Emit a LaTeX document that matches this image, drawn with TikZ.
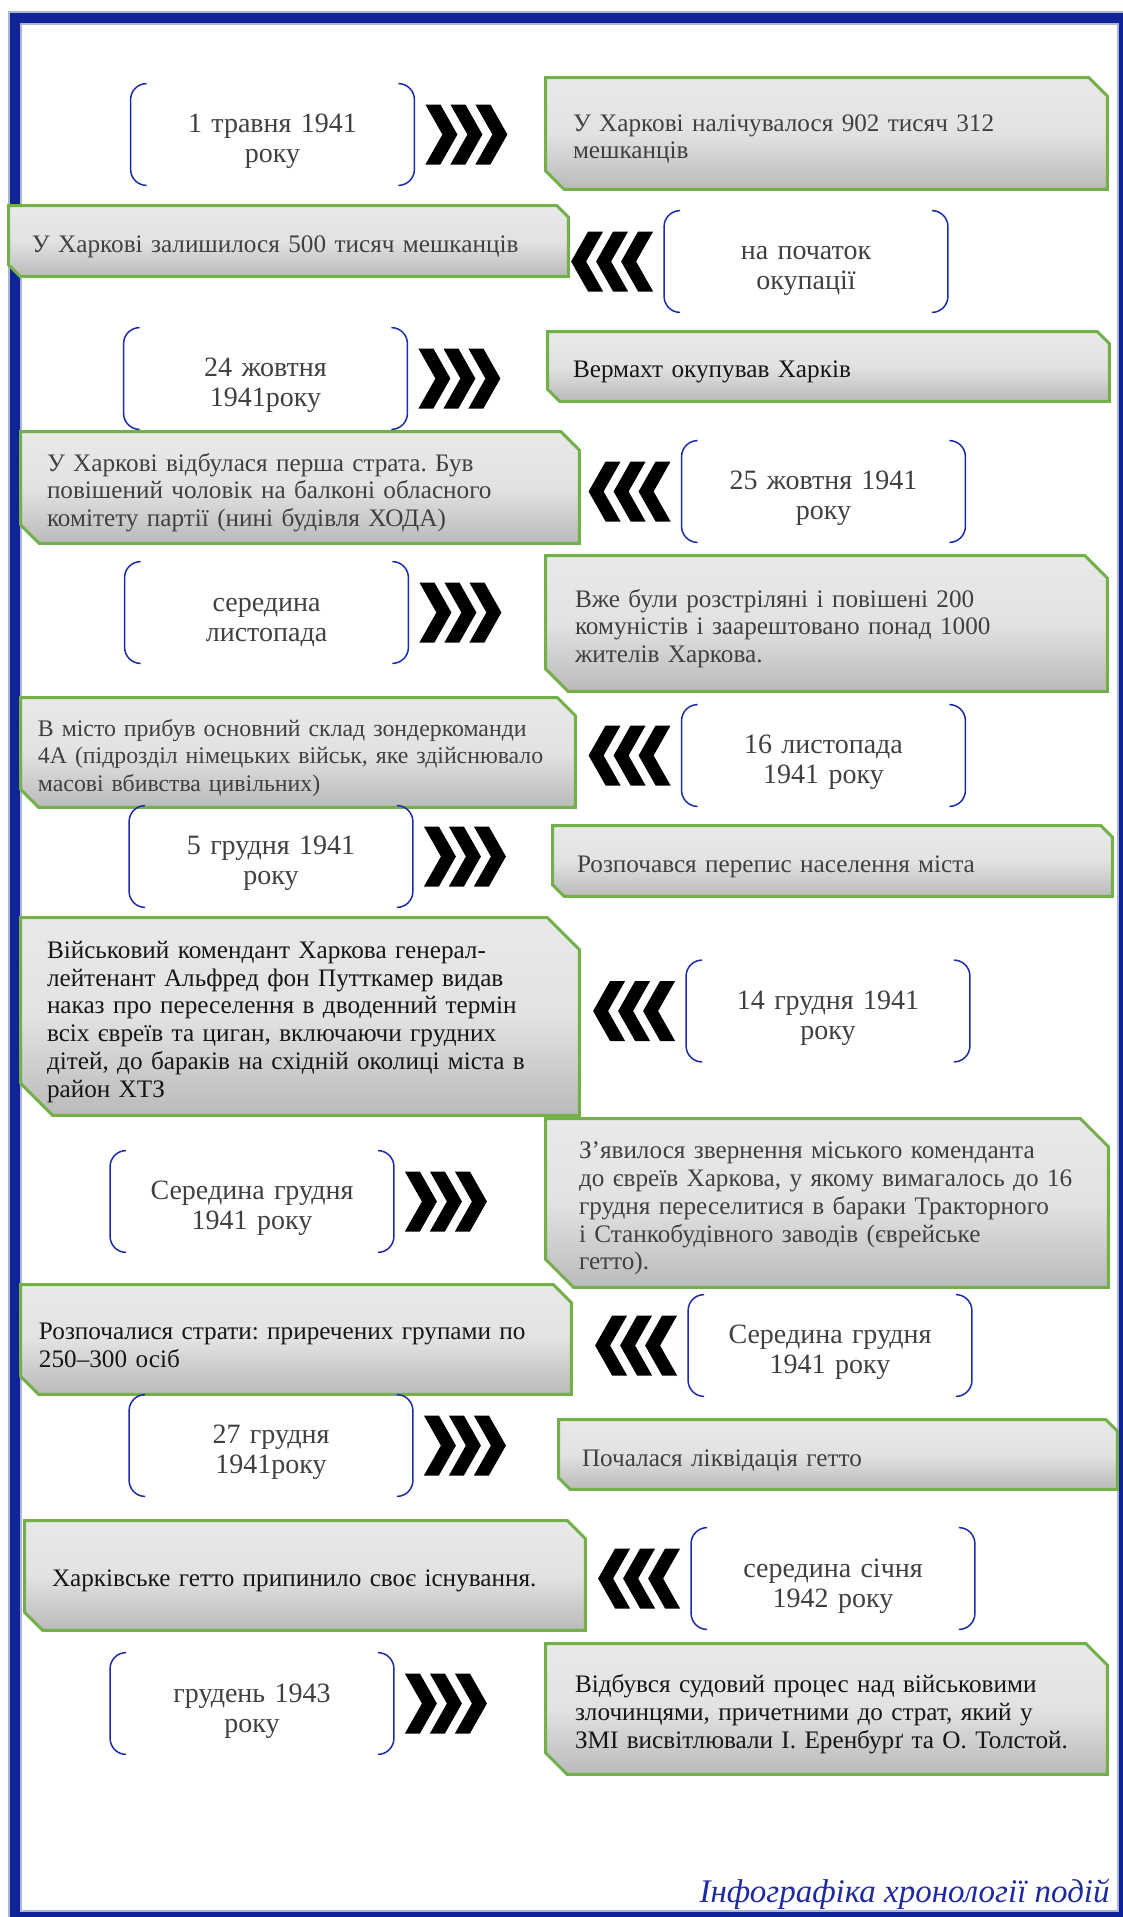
\documentclass[tikz,border=0pt]{standalone}
\usepackage{fontspec}
\setmainfont{Liberation Serif}
\usetikzlibrary{backgrounds}
\frenchspacing

\definecolor{frameblue}{RGB}{16,36,152}
\definecolor{framegrey}{RGB}{172,182,204}
\definecolor{brkblue}{RGB}{28,44,168}
\definecolor{boxgreen}{RGB}{116,176,74}
\definecolor{boxtop}{RGB}{233,233,233}
\definecolor{boxmid}{RGB}{226,226,226}
\definecolor{boxbot}{RGB}{186,186,186}
\definecolor{txtgrey}{RGB}{64,64,64}
\definecolor{txtblack}{RGB}{22,22,22}
\definecolor{capblue}{RGB}{30,42,160}

% round brackets on both sides of a date node
\newcommand{\brk}[1]{%
  \draw[brkline] ([xshift=8pt]#1.north west) arc[start angle=90,end angle=180,radius=8pt]
    -- ([yshift=8pt]#1.south west) arc[start angle=180,end angle=270,radius=8pt];
  \draw[brkline] ([xshift=-8pt]#1.north east) arc[start angle=90,end angle=0,radius=8pt]
    -- ([yshift=8pt]#1.south east) arc[start angle=0,end angle=-90,radius=8pt];}

% three chevrons after / before a date node
\newcommand{\chevR}[1]{%
  \foreach \k in {0,1,2}
    \fill[chev] ([xshift=5.5pt+12.5pt*\k]#1.east) ++(0pt,15pt) -- ++(7.5pt,0pt) -- ++(8.5pt,-15pt)
      -- ++(-8.5pt,-15pt) -- ++(-7.5pt,0pt) -- ++(8.5pt,15pt) -- cycle;}
\newcommand{\chevL}[1]{%
  \foreach \k in {0,1,2}
    \fill[chev] ([xshift=-5.5pt-12.5pt*\k]#1.west) ++(0pt,15pt) -- ++(-7.5pt,0pt) -- ++(-8.5pt,-15pt)
      -- ++(8.5pt,-15pt) -- ++(7.5pt,0pt) -- ++(-8.5pt,15pt) -- cycle;}

% green box with two cut corners, behind an event node
\newcommand{\cutbox}[2]{%
  \begin{pgfonlayer}{background}
  \draw[cutshape] (#1.north west) -- ([xshift=-#2]#1.north east) -- ([yshift=-#2]#1.north east)
    -- (#1.south east) -- ([xshift=#2]#1.south west) -- ([yshift=#2]#1.south west) -- cycle;
  \end{pgfonlayer}}

\begin{document}
\begin{tikzpicture}[x=0.5pt,y=-0.5pt,
  datenode/.style={minimum width=141.5pt,minimum height=50.5pt,inner sep=0pt,align=center,text width=141.5pt,
    font=\fontsize{14}{15}\selectfont,text=txtgrey,execute at begin node={\rule{0pt}{16.5pt}}},
  eventnode/.style={inner sep=0pt,align=left,font=\fontsize{12.6}{13.85}\selectfont,
    execute at begin node={\rule{0pt}{14pt}}},
  brkline/.style={draw=brkblue,line width=0.75pt},
  chev/.style={fill=black},
  cutshape/.style={draw=boxgreen,line width=1.5pt,top color=boxtop,bottom color=boxbot,middle color=boxmid}]

\useasboundingbox (0,0) rectangle (1123,1917);

% frame
\begin{pgfonlayer}{background}
\fill[framegrey] (8,11) rectangle (1123,1917);
\fill[frameblue] (10,13) rectangle (1123,1917);
\fill[framegrey] (20,23) rectangle (1119,1912);
\fill[white] (22,25) rectangle (1117,1910);
\end{pgfonlayer}

\node[datenode] (d1) at (272.5,134.5) {1 травня 1941\\року};
\node[eventnode,text=txtgrey,minimum width=280.5pt,minimum height=55.5pt,text width=253.5pt] (e1) at (826.5,133.5)
  {У Харкові налічувалося 902 тисяч 312\\мешканців};
\brk{d1} \cutbox{e1}{9.25pt} \chevR{d1}

\node[datenode] (d2) at (806,261.5) {на початок\\окупації};
\node[eventnode,text=txtgrey,minimum width=279.5pt,minimum height=35pt,text width=256.5pt] (e2) at (288.5,241)
  {У Харкові залишилося 500 тисяч мешканців};
\brk{d2} \cutbox{e2}{5.8pt} \chevL{d2}

\node[datenode] (d3) at (265.5,378.5) {24 жовтня\\1941року};
\node[eventnode,text=txtblack,minimum width=280.5pt,minimum height=34.5pt,text width=255.5pt] (e3) at (828.5,366.5)
  {Вермахт окупував Харків};
\brk{d3} \cutbox{e3}{6pt} \chevR{d3}

\node[datenode] (d4) at (823.5,491.5) {25 жовтня 1941\\року};
\node[eventnode,text=txtgrey,minimum width=279pt,minimum height=55.5pt,text width=253pt] (e4) at (300,487.5)
  {У Харкові відбулася перша страта. Був\\повішений чоловік на балконі обласного\\комітету партії (нині будівля ХОДА)};
\brk{d4} \cutbox{e4}{9.25pt} \chevL{d4}

\node[datenode] (d5) at (266.5,612.5) {середина\\листопада};
\node[eventnode,text=txtgrey,minimum width=280.5pt,minimum height=67.5pt,text width=251.5pt] (e5) at (826.5,623.5)
  {Вже були розстріляні і повішені 200\\комуністів і заарештовано понад 1000\\жителів Харкова.};
\brk{d5} \cutbox{e5}{11.25pt} \chevR{d5}

\node[datenode] (d6) at (823.5,755.5) {16 листопада\\1941 року};
\node[eventnode,text=txtgrey,minimum width=277pt,minimum height=54.5pt,text width=260pt,font=\fontsize{11.9}{13.85}\selectfont] (e6) at (298,752.5)
  {В місто прибув основний склад зондеркоманди\\4А (підрозділ німецьких військ, яке здійснювало\\масові вбивства цивільних)};
\brk{d6} \cutbox{e6}{9pt} \chevL{d6}

\node[datenode] (d7) at (271,856.5) {5 грудня 1941\\року};
\node[eventnode,text=txtgrey,minimum width=279.5pt,minimum height=35pt,text width=255.5pt] (e7) at (832.5,861)
  {Розпочався перепис населення міста};
\brk{d7} \cutbox{e7}{5.8pt} \chevR{d7}

\node[datenode] (d8) at (828,1011) {14 грудня 1941\\року};
\node[eventnode,text=txtblack,minimum width=279pt,minimum height=98.5pt,text width=253pt] (e8) at (300,1016.5)
  {Військовий комендант Харкова генерал-\\лейтенант Альфред фон Путткамер видав\\наказ про переселення в дводенний термін\\всіх євреїв та циган, включаючи грудних\\дітей, до бараків на східній околиці міста в\\район ХТЗ};
\brk{d8} \cutbox{e8}{16pt} \chevL{d8}

\node[datenode] (d9) at (252,1201.5) {Середина грудня\\1941 року};
\node[eventnode,text=txtgrey,minimum width=281pt,minimum height=84pt,text width=248pt] (e9) at (827,1203)
  {З'явилося звернення міського коменданта\\до євреїв Харкова, у якому вимагалось до 16\\грудня переселитися в бараки Тракторного\\і Станкобудівного  заводів (єврейське\\гетто).};
\brk{d9} \cutbox{e9}{14pt} \chevR{d9}

\node[datenode] (d10) at (830,1345.5) {Середина грудня\\1941 року};
\node[eventnode,text=txtblack,minimum width=275pt,minimum height=54.5pt,text width=257pt] (e10) at (296,1339.5)
  {Розпочалися страти: приречених групами по\\250–300 осіб};
\brk{d10} \cutbox{e10}{9pt} \chevL{d10}

\node[datenode] (d11) at (271,1445.5) {27 грудня\\1941року};
\node[eventnode,text=txtgrey,minimum width=279pt,minimum height=34.5pt,text width=256pt] (e11) at (838,1454.5)
  {Почалася ліквідація гетто};
\brk{d11} \cutbox{e11}{5.75pt} \chevR{d11}

\node[datenode] (d12) at (833,1578.5) {середина січня\\1942 року};
\node[eventnode,text=txtblack,minimum width=280pt,minimum height=54.5pt,text width=253pt] (e12) at (305,1575.5)
  {Харківське гетто припинило своє існування.};
\brk{d12} \cutbox{e12}{9pt} \chevL{d12}

\node[datenode] (d13) at (252,1703.5) {грудень 1943\\року};
\node[eventnode,text=txtblack,minimum width=280.5pt,minimum height=65pt,text width=251.5pt] (e13) at (826.5,1709)
  {Відбувся судовий процес над військовими\\злочинцями, причетними до страт, який у\\ЗМІ висвітлювали І. Еренбурґ та О. Толстой.};
\brk{d13} \cutbox{e13}{10.8pt} \chevR{d13}

\node[font=\fontsize{16.5}{18}\selectfont\itshape,text=capblue,anchor=base east,inner sep=0pt] (cap) at (1110,1902)
  {Інфографіка хронології подій};
\end{tikzpicture}
\end{document}
